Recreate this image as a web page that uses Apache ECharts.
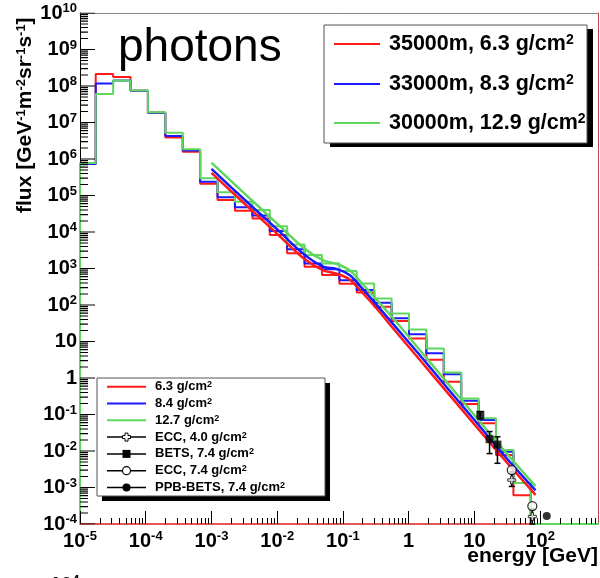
<!DOCTYPE html>
<html>
<head>
<meta charset="utf-8">
<script src="https://cdn.jsdelivr.net/npm/echarts@6/dist/echarts.min.js"></script>
<style>
  html, body { margin: 0; padding: 0; background: #fff; }
  #chart { width: 600px; height: 578px; }
</style>
</head>
<body>
<div id="chart"></div>
<script>
// Both axes are logarithmic: values below are log10(E / GeV) and log10(flux).
const X_MIN = -5, X_MAX = 2.88;
const Y_MIN = -4, Y_MAX = 10;

// Histogram bin edges, log10(E / GeV)
const binEdgesExp = [-5.000, -4.761, -4.496, -4.231, -3.967, -3.702, -3.437, -3.172,
  -2.908, -2.643, -2.378, -2.113, -1.849, -1.584, -1.319, -1.054, -0.790, -0.525,
  -0.260, 0.005, 0.269, 0.534, 0.799, 1.064, 1.328, 1.593, 1.858, 2.123, 2.387, 2.652, 2.917];

// Simulated photon flux per bin, log10 (null = empty bin)
const hist63 = [5.86, 8.33, 8.25, 7.87, 7.27, 6.59, 6.20, 5.32, 4.88, 4.58, 4.37, 3.92, 3.42,
  3.05, 2.82, 2.58, 2.34, 1.95, 1.56, 1.08, 0.50, -0.10, -0.71, -1.24, -2.11, -3.21];
const hist84 = [5.86, 8.07, 8.15, 7.87, 7.27, 6.63, 6.23, 5.38, 4.95, 4.68, 4.45, 4.03, 3.53,
  3.14, 2.98, 2.68, 2.41, 2.06, 1.64, 1.20, 0.68, 0.10, -0.62, -1.15, -2.02, -2.88, null];
const hist127 = [5.89, 7.78, 8.15, 7.88, 7.28, 6.72, 6.27, 5.47, 5.09, 4.83, 4.60, 4.16, 3.66,
  3.37, 3.14, 2.93, 2.59, 2.18, 1.77, 1.33, 0.81, 0.15, -0.56, -1.10, -1.97, -2.88, null, null, null, null];

// Calculated spectra at three altitudes, log10 values
const curveEnergyExp = [-3.0, -2.5, -2.0, -1.6, -1.3, -1.1, -0.9, -0.7, -0.5, -0.2, 0.2, 0.6, 1.0, 1.5, 1.93];
const curve35000 = [5.62, 4.78, 3.95, 3.28, 2.95, 2.86, 2.70, 2.33, 1.93, 1.28, 0.43, -0.42, -1.27, -2.33, -3.20];
const curve33000 = [5.73, 4.89, 4.07, 3.40, 3.05, 2.99, 2.82, 2.44, 2.03, 1.40, 0.56, -0.30, -1.15, -2.22, -3.08];
const curve30000 = [5.90, 5.06, 4.23, 3.57, 3.22, 3.13, 2.95, 2.57, 2.17, 1.56, 0.70, -0.16, -1.02, -2.09, -2.96];

// Measurements (GeV, GeV^-1 m^-2 sr^-1 s^-1)
const betsEnergy = [12.3, 17.0, 22.4];
const betsFlux = [0.098, 0.021, 0.015];
const betsLow = [0.075, 0.0085, 0.0046];
const betsHigh = [0.12, 0.034, 0.0245];
const ecc40Energy = [37, 76];
const ecc40Flux = [1.6e-3, 1.6e-4];
const ecc40Low = [1.07e-3, 1.0e-4];
const ecc40High = [2.7e-3, 2.6e-4];
const ecc74Energy = [37, 76];
const ecc74Flux = [3.0e-3, 3.1e-4];
const ppbEnergy = [126];
const ppbFlux = [1.66e-4];

const FONT = '"Liberation Sans", Arial, Helvetica, sans-serif';
const RED = '#ff1a1a', BLUE = '#1a1aff', GREEN = '#5fd75f';

const chart = echarts.init(document.getElementById('chart'));

function histPoints(vals) {
  const pts = [[binEdgesExp[0], Y_MIN]];
  vals.forEach((v, i) => pts.push([binEdgesExp[i], v == null ? Y_MIN : v]));
  pts.push([binEdgesExp[vals.length], Y_MIN]);
  return pts;
}
const zip = (xs, ys) => xs.map((x, i) => [x, ys[i]]);
const lg = Math.log10;

function expLabel(v) {
  const n = Math.round(v);
  if (Math.abs(v - n) > 1e-6) return '';
  if (n === 0) return '{b|1}';
  if (n === 1) return '{b|10}';
  return '{b|10}{s|' + n + '}';
}
const tickRich = {
  b: { fontSize: 20, fontWeight: 'bold', fontFamily: FONT, color: '#000', lineHeight: 22 },
  s: { fontSize: 13, fontWeight: 'bold', fontFamily: FONT, color: '#000', verticalAlign: 'top', lineHeight: 13 }
};

// tick marks at every decade (major) and at 2..9 within it (minor)
const xMajor = [], xMinor = [], yMajor = [], yMinor = [];
for (let n = X_MIN; n <= 2; n++) {
  xMajor.push(n);
  for (let k = 2; k <= 9; k++) { const t = n + lg(k); if (t < X_MAX) xMinor.push(t); }
}
for (let n = Y_MIN; n <= Y_MAX; n++) {
  yMajor.push(n);
  if (n < Y_MAX) for (let k = 2; k <= 9; k++) yMinor.push(n + lg(k));
}

const histLine = (name, vals, color) => ({
  name, type: 'line', step: 'end', data: histPoints(vals), showSymbol: false,
  lineStyle: { color, width: 2 }, z: 3
});
const curveLine = (name, vals, color) => ({
  name, type: 'line', smooth: 0.35, data: zip(curveEnergyExp, vals), showSymbol: false,
  lineStyle: { color, width: 2.5 }, z: 4
});

// left-axis ticks as short horizontal segments; the length is given in decades of energy
const PX_PER_DECADE_X = 518 / (X_MAX - X_MIN);
function yTickSegments(values, lengthPx) {
  const d = lengthPx / PX_PER_DECADE_X, pts = [];
  values.forEach(v => { pts.push([X_MIN, v], [X_MIN + d, v], null); });
  return pts;
}
const yTickLine = (values, lengthPx) => ({
  type: 'line', z: 20, silent: true, showSymbol: false, connectNulls: false,
  data: yTickSegments(values, lengthPx), lineStyle: { color: '#000', width: 1.2 },
  emphasis: { disabled: true }
});

const errRows = [];
betsEnergy.forEach((e, i) => errRows.push([lg(e), lg(betsLow[i]), lg(betsHigh[i])]));
ecc40Energy.forEach((e, i) => errRows.push([lg(e), lg(ecc40Low[i]), lg(ecc40High[i])]));

const crossPath = 'path://M3.5,0H6.5V3.5H10V6.5H6.5V10H3.5V6.5H0V3.5H3.5Z';

const sup = { fontSize: 14, fontWeight: 'bold', fontFamily: FONT, verticalAlign: 'top', lineHeight: 14 };
const supSmall = { fontSize: 9, fontWeight: 'bold', fontFamily: FONT, verticalAlign: 'top', lineHeight: 9 };

// Top legend (simulations at three altitudes)
const topLeg = { x: 324, y: 25, w: 263, h: 118 };
const topRows = [
  { color: RED, text: '35000m, 6.3 g/cm{s|2}', y: 44 },
  { color: BLUE, text: '33000m, 8.3 g/cm{s|2}', y: 84 },
  { color: GREEN, text: '30000m, 12.9 g/cm{s|2}', y: 123 }
];
// Bottom legend (depths and measurements)
const botLeg = { x: 97, y: 378, w: 228, h: 118 };
const botRows = [
  { color: RED, text: '6.3 g/cm{s|2}', y: 386.7 },
  { color: BLUE, text: '8.4 g/cm{s|2}', y: 403.5 },
  { color: GREEN, text: '12.7 g/cm{s|2}', y: 420.3 },
  { color: '#000', text: 'ECC, 4.0 g/cm{s|2}', y: 437.1, marker: 'cross' },
  { color: '#000', text: 'BETS, 7.4 g/cm{s|2}', y: 453.9, marker: 'square' },
  { color: '#000', text: 'ECC, 7.4 g/cm{s|2}', y: 470.7, marker: 'open' },
  { color: '#000', text: 'PPB-BETS, 7.4 g/cm{s|2}', y: 487.5, marker: 'dot' }
];

const graphics = [];
graphics.push({ type: 'rect', z: 100, shape: { x: topLeg.x + 6, y: topLeg.y + 4, width: topLeg.w, height: topLeg.h }, style: { fill: '#000' } });
graphics.push({ type: 'rect', z: 101, shape: { x: topLeg.x, y: topLeg.y, width: topLeg.w, height: topLeg.h }, style: { fill: '#fff', stroke: '#555', lineWidth: 1 } });
topRows.forEach(r => {
  graphics.push({ type: 'line', z: 102, shape: { x1: 334, y1: r.y, x2: 380, y2: r.y }, style: { stroke: r.color, lineWidth: 2 } });
  graphics.push({ type: 'text', z: 102, x: 389, y: r.y, style: {
    text: r.text, fontSize: 21.5, fontWeight: 'bold', fontFamily: FONT, fill: '#000',
    verticalAlign: 'middle', align: 'left', rich: { s: sup } } });
});
graphics.push({ type: 'rect', z: 100, shape: { x: botLeg.x + 5, y: botLeg.y + 5, width: botLeg.w, height: botLeg.h }, style: { fill: '#000' } });
graphics.push({ type: 'rect', z: 101, shape: { x: botLeg.x, y: botLeg.y, width: botLeg.w, height: botLeg.h }, style: { fill: '#fff', stroke: '#555', lineWidth: 1 } });
botRows.forEach(r => {
  const cx = 126.5;
  graphics.push({ type: 'line', z: 102, shape: { x1: 107, y1: r.y, x2: 146, y2: r.y }, style: { stroke: r.color, lineWidth: r.marker ? 1.5 : 2 } });
  if (r.marker === 'square') graphics.push({ type: 'rect', z: 103, shape: { x: cx - 4, y: r.y - 4, width: 8, height: 8 }, style: { fill: '#000' } });
  if (r.marker === 'open') graphics.push({ type: 'circle', z: 103, shape: { cx, cy: r.y, r: 4 }, style: { fill: '#fff', stroke: '#000', lineWidth: 1.2 } });
  if (r.marker === 'dot') graphics.push({ type: 'circle', z: 103, shape: { cx, cy: r.y, r: 4 }, style: { fill: '#000' } });
  if (r.marker === 'cross') graphics.push({ type: 'polygon', z: 103, shape: { points: [
      [cx - 1.5, r.y - 4], [cx + 1.5, r.y - 4], [cx + 1.5, r.y - 1.5], [cx + 4, r.y - 1.5], [cx + 4, r.y + 1.5],
      [cx + 1.5, r.y + 1.5], [cx + 1.5, r.y + 4], [cx - 1.5, r.y + 4], [cx - 1.5, r.y + 1.5], [cx - 4, r.y + 1.5],
      [cx - 4, r.y - 1.5], [cx - 1.5, r.y - 1.5]] }, style: { fill: '#fff', stroke: '#000', lineWidth: 1 } });
  graphics.push({ type: 'text', z: 102, x: 155, y: r.y, style: {
    text: r.text, fontSize: 13, fontWeight: 'bold', fontFamily: FONT, fill: '#000',
    verticalAlign: 'middle', align: 'left', rich: { s: supSmall } } });
});
// Panel label and axis titles
graphics.push({ type: 'text', z: 90, x: 118, y: 48, style: { text: 'photons', fontSize: 46, fontFamily: FONT, fill: '#000', verticalAlign: 'middle', align: 'left' } });
graphics.push({ type: 'text', z: 90, x: 25, y: 213, rotation: Math.PI / 2, style: {
  text: 'flux [GeV{s|-1}m{s|-2}sr{s|-1}s{s|-1}]', fontSize: 21, fontWeight: 'bold', fontFamily: FONT, fill: '#000',
  verticalAlign: 'middle', align: 'left', rich: { s: { fontSize: 13, fontWeight: 'bold', fontFamily: FONT, verticalAlign: 'top', lineHeight: 13 } } } });
graphics.push({ type: 'text', z: 90, x: 598, y: 556, style: { text: 'energy [GeV]', fontSize: 21, fontWeight: 'bold', fontFamily: FONT, fill: '#000', verticalAlign: 'middle', align: 'right' } });
graphics.push({ type: 'text', z: 90, x: 50, y: 585, style: { text: '{b|10}{s|4}', verticalAlign: 'middle', align: 'left', rich: tickRich } });

// an axis that only carries a set of tick marks, drawn inside the frame
const tickAxis = (min, max, position, values, length) => ({
  type: 'value', min, max, position, z: 20,
  axisLine: { show: false, onZero: false }, axisLabel: { show: false }, splitLine: { show: false },
  axisTick: { show: true, inside: true, length, customValues: values, lineStyle: { color: '#000', width: 1 } }
});

const option = {
  animation: false,
  textStyle: { fontFamily: FONT },
  grid: { left: 80, right: 2, top: 13, bottom: 54, containLabel: false },
  xAxis: [
    { type: 'value', min: X_MIN, max: X_MAX, interval: 1, position: 'bottom',
      axisLine: { onZero: false, lineStyle: { color: '#e02020', width: 1.5 } },
      axisTick: { show: false }, splitLine: { show: false },
      axisLabel: { formatter: expLabel, rich: tickRich, margin: 6, showMaxLabel: false } },
    { type: 'value', min: X_MIN, max: X_MAX, position: 'top',
      axisLine: { onZero: false, lineStyle: { color: '#888' } },
      axisTick: { show: false }, axisLabel: { show: false }, splitLine: { show: false } },
    tickAxis(X_MIN, X_MAX, 'bottom', xMajor, 13),
    tickAxis(X_MIN, X_MAX, 'bottom', xMinor, 6)
  ],
  yAxis: [
    { type: 'value', min: Y_MIN, max: Y_MAX, interval: 1, position: 'left',
      axisLine: { onZero: false, lineStyle: { color: '#000' } },
      axisTick: { show: false }, splitLine: { show: false },
      axisLabel: { formatter: expLabel, rich: tickRich, margin: 3 } },
    { type: 'value', min: Y_MIN, max: Y_MAX, position: 'right',
      axisLine: { onZero: false, lineStyle: { color: '#d04040' } },
      axisTick: { show: false }, axisLabel: { show: false }, splitLine: { show: false } }
  ],
  graphic: graphics,
  series: [
    histLine('6.3 g/cm2', hist63, RED),
    histLine('8.4 g/cm2', hist84, BLUE),
    histLine('12.7 g/cm2', hist127, GREEN),
    curveLine('35000m', curve35000, RED),
    curveLine('33000m', curve33000, BLUE),
    curveLine('30000m', curve30000, GREEN),
    { type: 'custom', z: 6, data: errRows,
      renderItem: (p, api) => {
        const hi = api.coord([api.value(0), api.value(2)]);
        const lo = api.coord([api.value(0), api.value(1)]);
        const c = 3, st = { stroke: '#000', lineWidth: 1.5 };
        return { type: 'group', children: [
          { type: 'line', shape: { x1: hi[0], y1: hi[1], x2: lo[0], y2: lo[1] }, style: st },
          { type: 'line', shape: { x1: hi[0] - c, y1: hi[1], x2: hi[0] + c, y2: hi[1] }, style: st },
          { type: 'line', shape: { x1: lo[0] - c, y1: lo[1], x2: lo[0] + c, y2: lo[1] }, style: st }
        ] };
      } },
    { name: 'BETS', type: 'scatter', z: 7, symbol: 'rect', symbolSize: 8,
      data: zip(betsEnergy.map(lg), betsFlux.map(lg)), itemStyle: { color: '#000' } },
    { name: 'ECC 4.0', type: 'scatter', z: 7, symbol: crossPath, symbolSize: 8,
      data: zip(ecc40Energy.map(lg), ecc40Flux.map(lg)), itemStyle: { color: '#fff', borderColor: '#000', borderWidth: 1 } },
    { name: 'ECC 7.4', type: 'scatter', z: 7, symbol: 'circle', symbolSize: 9,
      data: zip(ecc74Energy.map(lg), ecc74Flux.map(lg)), itemStyle: { color: '#fff', borderColor: '#000', borderWidth: 1.3 } },
    { name: 'PPB-BETS', type: 'scatter', z: 7, symbol: 'circle', symbolSize: 8,
      data: zip(ppbEnergy.map(lg), ppbFlux.map(lg)), itemStyle: { color: '#000' } },
    yTickLine(yMajor, 15),
    yTickLine(yMinor, 8)
  ]
};
chart.setOption(option);
</script>
</body>
</html>
